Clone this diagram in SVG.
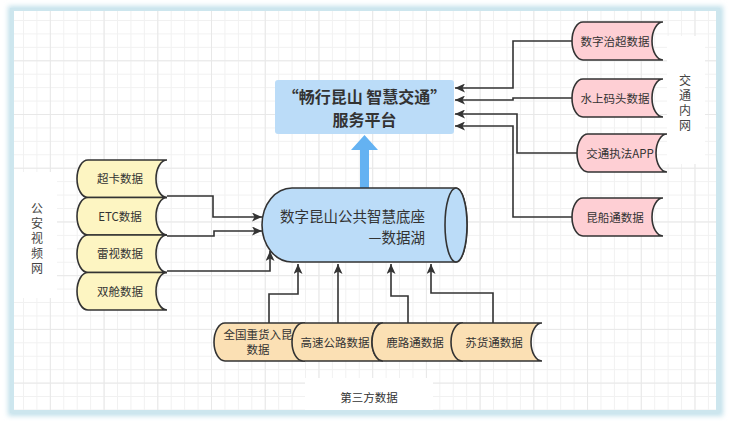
<svg xmlns="http://www.w3.org/2000/svg" width="730" height="421" viewBox="0 0 730 421">
<defs>
<style>
.txt{font-family:"Noto Sans CJK SC","Liberation Sans",sans-serif;fill:#333;}
.nt{font-size:11.5px;text-anchor:middle;}
.vl{font-size:12px;fill:#444;writing-mode:vertical-rl;letter-spacing:3px;}
.yel{fill:#fdf5c2;stroke:#333;stroke-width:1.6;}
.pnk{fill:#fecfd4;stroke:#333;stroke-width:1.6;}
.org{fill:#fbe0b4;stroke:#333;stroke-width:1.6;}
.con{fill:none;stroke:#333;stroke-width:1.6;marker-end:url(#arr);}
.bg{fill:#fff;}
</style>
<pattern id="grid" patternUnits="userSpaceOnUse" x="9.57" y="6.57" width="13.43" height="13.43">
<path d="M0.5 0V13.43M0 0.5H13.43" stroke="#f1f1f1" stroke-width="1" fill="none"/>
</pattern>
<pattern id="gridM" patternUnits="userSpaceOnUse" x="-3.86" y="6.57" width="53.72" height="53.72">
<path d="M0.5 0V53.72M0 0.5H53.72" stroke="#e8e8e8" stroke-width="1" fill="none"/>
</pattern>
<filter id="glow" x="-5%" y="-5%" width="110%" height="110%"><feGaussianBlur stdDeviation="2.5"/></filter>
<marker id="arr" markerUnits="userSpaceOnUse" markerWidth="11" markerHeight="9" refX="10" refY="4.5" orient="auto" viewBox="0 0 11 9">
<path d="M0,0 L10,4.5 L0,9 L2.5,4.5 Z" fill="#333"/>
</marker>
</defs>

<g id="frame">
<rect x="8" y="6" width="715" height="410" fill="#c3e1eb" filter="url(#glow)"/>
<rect x="10" y="8" width="710" height="405" fill="#cde6ee"/>
<rect x="14" y="11" width="702" height="399" fill="#fff"/>
<rect x="14" y="11" width="702" height="399" fill="url(#grid)"/>
<rect x="14" y="11" width="702" height="399" fill="url(#gridM)"/>
</g>

<g id="label-bgs">
<rect class="bg" x="14" y="172" width="43" height="126"/>
<rect class="bg" x="667" y="36" width="38" height="128"/>
<rect class="bg" x="305" y="378" width="128" height="32"/>
</g>

<g id="connectors">
<polyline class="con" points="167,196 213,196 213,217 262,217"/>
<polyline class="con" points="167,236 214,236 214,231 262,231"/>
<polyline class="con" points="167,271 270,271 270,251"/>
<polyline class="con" points="572,41 513,41 513,88 455,88"/>
<polyline class="con" points="572,98 513,98 513,100 455,100"/>
<polyline class="con" points="577,153 517,153 517,114 455,114"/>
<polyline class="con" points="572,217 513,217 513,126 455,126"/>
<polyline class="con" points="269,323 269,294 298,294 298,264"/>
<polyline class="con" points="338,323 338,264"/>
<polyline class="con" points="408,323 408,296 391,296 391,264"/>
<polyline class="con" points="493,323 493,293 431,293 431,264"/>
<polygon points="360,188 369,188 369,150 378,150 364.5,135 351,150 360,150" fill="#64b2f2"/>
</g>

<g id="platform">
<rect x="275" y="80" width="179" height="54" rx="3" fill="#bbdcf8"/>
<text class="txt" x="364.5" y="103" font-size="16" font-weight="bold" text-anchor="middle">“畅行昆山 智慧交通”</text>
<text class="txt" x="364.5" y="126" font-size="16" font-weight="bold" text-anchor="middle">服务平台</text>
</g>

<g id="datalake">
<path d="M292,188 H456 A11,37 0 0 1 456,262 H292 A30,37 0 0 1 292,188 Z" fill="#bbdcf8" stroke="#333" stroke-width="1.6"/>
<ellipse cx="456" cy="225" rx="11" ry="37" fill="#bbdcf8" stroke="#333" stroke-width="1.6"/>
<text class="txt" x="352.5" y="222" font-size="14.5" text-anchor="middle">数字昆山公共智慧底座</text>
<text class="txt" x="425" y="243" font-size="14.5" text-anchor="end">—数据湖</text>
</g>

<g id="n-chaoka">
<path class="yel" d="M88,160 H167 A11,18.75 0 0 0 167,197.5 H88 A11,18.75 0 0 1 88,160 Z"/>
<text class="txt nt" x="120" y="183">超卡数据</text>
</g>
<g id="n-etc">
<path class="yel" d="M88,197.5 H167 A11,18.75 0 0 0 167,235 H88 A11,18.75 0 0 1 88,197.5 Z"/>
<text class="txt nt" x="120" y="220.5">ETC数据</text>
</g>
<g id="n-leishi">
<path class="yel" d="M88,235 H167 A11,18.75 0 0 0 167,272.5 H88 A11,18.75 0 0 1 88,235 Z"/>
<text class="txt nt" x="120" y="258">雷视数据</text>
</g>
<g id="n-shuangcang">
<path class="yel" d="M88,272.5 H167 A11,18.75 0 0 0 167,310 H88 A11,18.75 0 0 1 88,272.5 Z"/>
<text class="txt nt" x="120" y="295.5">双舱数据</text>
</g>

<g id="n-zhichao">
<path class="pnk" d="M583,22 H663 A11,19 0 0 0 663,60 H583 A11,19 0 0 1 583,22 Z"/>
<text class="txt nt" x="615" y="45.5">数字治超数据</text>
</g>
<g id="n-matou">
<path class="pnk" d="M583,79 H663 A11,19 0 0 0 663,117 H583 A11,19 0 0 1 583,79 Z"/>
<text class="txt nt" x="615" y="102.5">水上码头数据</text>
</g>
<g id="n-zhifa">
<path class="pnk" d="M588,134 H667 A11,19 0 0 0 667,172 H588 A11,19 0 0 1 588,134 Z"/>
<text class="txt nt" x="620" y="157.5">交通执法APP</text>
</g>
<g id="n-kunchuan">
<path class="pnk" d="M583,198 H663 A11,19 0 0 0 663,236 H583 A11,19 0 0 1 583,198 Z"/>
<text class="txt nt" x="615" y="221.5">昆船通数据</text>
</g>

<g id="n-zhonghuo">
<path class="org" d="M225,323 H305 A11,19 0 0 0 305,361 H225 A11,19 0 0 1 225,323 Z"/>
<text class="txt nt" x="258" y="339">全国重货入昆</text>
<text class="txt nt" x="258" y="354">数据</text>
</g>
<g id="n-gaosu">
<path class="org" d="M303,323 H383 A11,19 0 0 0 383,361 H303 A11,19 0 0 1 303,323 Z"/>
<text class="txt nt" x="335" y="346.5">高速公路数据</text>
</g>
<g id="n-lulutong">
<path class="org" d="M383,323 H463 A11,19 0 0 0 463,361 H383 A11,19 0 0 1 383,323 Z"/>
<text class="txt nt" x="415" y="346.5">鹿路通数据</text>
</g>
<g id="n-suhuotong">
<path class="org" d="M462,323 H542 A11,19 0 0 0 542,361 H462 A11,19 0 0 1 462,323 Z"/>
<text class="txt nt" x="494" y="346.5">苏货通数据</text>
</g>

<g id="labels">
<text class="txt vl" x="37" y="202">公安视频网</text>
<text class="txt vl" x="685" y="74">交通内网</text>
<text class="txt" x="369" y="402" font-size="11.5" text-anchor="middle" fill="#444">第三方数据</text>
</g>
</svg>
